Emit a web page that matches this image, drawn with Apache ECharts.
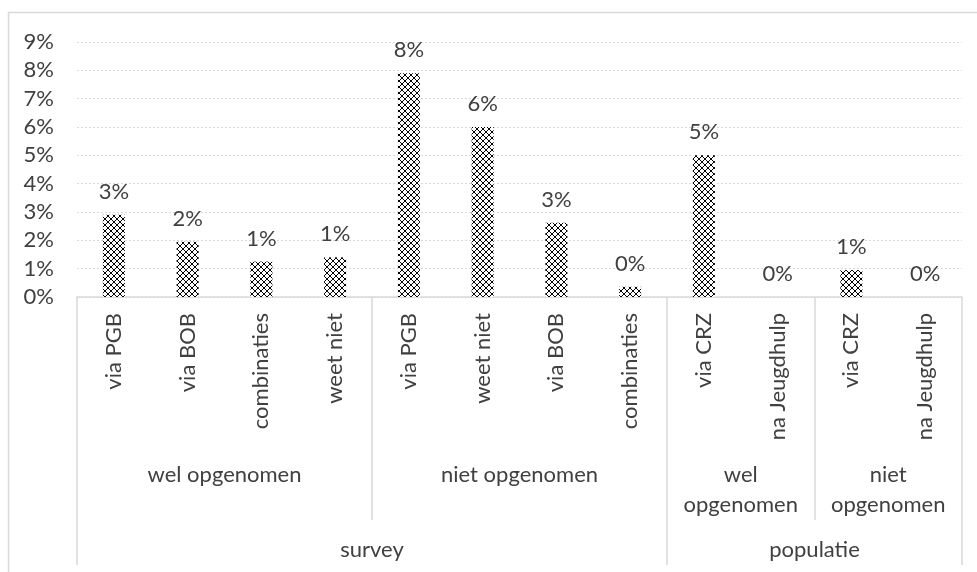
<!DOCTYPE html>
<html>
<head>
<meta charset="utf-8">
<script src="https://cdn.jsdelivr.net/npm/echarts@6/dist/echarts.min.js"></script>
<style>
html,body{margin:0;padding:0;background:#fff;}
#chart{width:977px;height:572px;}
</style>
</head>
<body>
<div id="chart"></div>
<script>
// ---- data ----
const categories = ["via PGB","via BOB","combinaties","weet niet","via PGB","weet niet","via BOB","combinaties","via CRZ","na Jeugdhulp","via CRZ","na Jeugdhulp"];
const values = [0.029, 0.0195, 0.0125, 0.014, 0.079, 0.060, 0.0262, 0.0036, 0.050, 0, 0.0095, 0];
const level2Groups = ["wel opgenomen","niet opgenomen","wel opgenomen","niet opgenomen"];
const level2Spans = [4, 4, 2, 2];
const level3Groups = ["survey","populatie"];
const level3Spans = [8, 4];
const yTicks = [0,0.01,0.02,0.03,0.04,0.05,0.06,0.07,0.08,0.09];

// ---- helpers ----
function groupInfo(groups, spans){
  let pos = 0; const centers = [], bounds = [0], labels = {};
  groups.forEach((g,i)=>{
    const c = pos + spans[i]/2;
    centers.push(c);
    labels[c] = spans[i] <= 2 ? g.replace(' ', '\n') : g;
    pos += spans[i];
    bounds.push(pos);
  });
  return {centers, bounds, labels};
}
const l2 = groupInfo(level2Groups, level2Spans);
const l3 = groupInfo(level3Groups, level3Spans);

function makePattern(){
  const n = 6;
  const c = document.createElement('canvas');
  c.width = n; c.height = n;
  const ctx = c.getContext('2d');
  ctx.fillStyle = '#ffffff'; ctx.fillRect(0,0,n,n);
  ctx.fillStyle = '#000000';
  for (let i = 0; i < n; i++) {
    ctx.fillRect(i, i, 1, 1);
    ctx.fillRect(n-1-i, i, 1, 1);
  }
  // thicken crossing points slightly
  ctx.fillRect(2,3,1,1); ctx.fillRect(3,2,1,1);
  ctx.fillRect(0,5,1,1); ctx.fillRect(5,0,1,1);
  return c;
}

const FONT = 'Lato';
const TXT = '#404040';
const LINE = '#d9d9d9';
const FS = 22;

const chart = echarts.init(document.getElementById('chart'));
const nCat = categories.length;
chart.setOption({
  animation: false,
  backgroundColor: '#ffffff',
  textStyle: {fontFamily: FONT},
  grid: {left: 77, right: 15, top: 42, bottom: 275},
  graphic: [{
    type: 'rect', shape: {x: 8.5, y: 12.5, width: 1000, height: 700},
    style: {fill: 'none', stroke: LINE, lineWidth: 1.5}, silent: true, z: -10
  }],
  xAxis: [
    {
      type: 'category', data: categories, position: 'bottom',
      axisLine: {show: true, lineStyle: {color: LINE, width: 1.5}},
      axisTick: {show: false},
      axisLabel: {rotate: 90, fontSize: FS, color: TXT, fontFamily: FONT, margin: 16, interval: 0}
    },
    {
      type: 'value', min: 0, max: nCat, position: 'bottom',
      axisLine: {show: false}, splitLine: {show: false},
      axisTick: {show: true, customValues: l2.bounds.slice(1, -1), length: 223, inside: false, lineStyle: {color: LINE, width: 1.5}},
      axisLabel: {customValues: l2.centers, formatter: v => l2.labels[v] || '', fontSize: FS, color: TXT, fontFamily: FONT, margin: 163, verticalAlign: 'top', lineHeight: 30, align: 'center'}
    },
    {
      type: 'value', min: 0, max: nCat, position: 'bottom',
      axisLine: {show: false}, splitLine: {show: false},
      axisTick: {show: true, customValues: l3.bounds, length: 268, inside: false, lineStyle: {color: LINE, width: 1.5}},
      axisLabel: {customValues: l3.centers, formatter: v => l3.labels[v] || '', fontSize: FS, color: TXT, fontFamily: FONT, margin: 242, verticalAlign: 'top', align: 'center'}
    }
  ],
  yAxis: {
    type: 'value', min: 0, max: 0.09, interval: 0.01,
    axisLine: {show: false}, axisTick: {show: false},
    axisLabel: {formatter: v => Math.round(v*100) + '%', fontSize: FS, color: TXT, fontFamily: FONT, margin: 23},
    splitLine: {show: true, lineStyle: {color: LINE, type: [2, 2], width: 1}}
  },
  series: [{
    type: 'bar', data: values, xAxisIndex: 0, barWidth: 22,
    itemStyle: {color: {image: makePattern(), repeat: 'repeat'}},
    label: {show: true, position: 'top', distance: 12, formatter: p => Math.round(p.value*100) + '%', fontSize: FS, color: TXT, fontFamily: FONT}
  }]
});
</script>
</body>
</html>
